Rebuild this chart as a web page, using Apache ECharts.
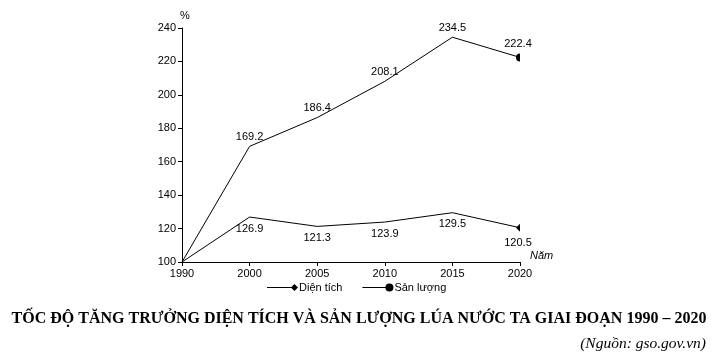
<!DOCTYPE html>
<html><head><meta charset="utf-8">
<script src="https://cdn.jsdelivr.net/npm/echarts@6/dist/echarts.min.js"></script>
<style>html,body{margin:0;padding:0;background:#fff}#c{width:718px;height:362px}</style>
</head><body><div id="c"></div>
<script>
const years = ['1990','2000','2005','2010','2015','2020'];
const dienTich = [100, 126.9, 121.3, 123.9, 129.5, 120.5];
const sanLuong = [100, 169.2, 186.4, 208.1, 234.5, 222.4];
const yTicks = {min: 100, max: 240, interval: 20};

const F = 'Liberation Sans, Arial, sans-serif';
const chart = echarts.init(document.getElementById('c'), null, {renderer: 'canvas'});

function lastOnly(vals, sym) {
  return vals.map((v, i) => i === vals.length - 1
    ? {value: v, symbol: sym, symbolSize: [4, 8], symbolOffset: [-2, 0]}
    : {value: v, symbol: 'circle', symbolSize: 0.01});
}

chart.setOption({
  animation: false,
  grid: {left: 182, right: 198, top: 28, bottom: 100, containLabel: false},
  xAxis: {
    type: 'category', data: years, boundaryGap: false,
    axisLine: {lineStyle: {color: '#000', width: 1}},
    axisTick: {show: true, length: 4, alignWithLabel: true, lineStyle: {color: '#000'}},
    axisLabel: {color: '#000', fontFamily: F, fontSize: 11, margin: 6},
    splitLine: {show: false}
  },
  yAxis: {
    type: 'value', min: yTicks.min, max: yTicks.max, interval: yTicks.interval,
    axisLine: {show: true, lineStyle: {color: '#000', width: 1}},
    axisTick: {show: true, length: 4, lineStyle: {color: '#000'}},
    axisLabel: {color: '#000', fontFamily: F, fontSize: 11, margin: 6},
    splitLine: {show: false}
  },
  legend: {
    bottom: 64, left: 262,
    itemGap: 20,
    itemWidth: 31, itemHeight: 8,
    textStyle: {fontFamily: F, fontSize: 11, color: '#000', padding: [0, 0, 0, -4]},
    data: [
      {name: 'Diện tích', icon: 'path://M0 3.5H27V4.5H0Z M27 0.5L30.5 4L27 7.5L23.5 4Z'},
      {name: 'Sản lượng', icon: 'path://M0 3.5H26V4.5H0Z M23 4A4 4 0 1 1 31 4A4 4 0 1 1 23 4Z'}
    ]
  },
  series: [
    {
      name: 'Diện tích', type: 'line', data: lastOnly(dienTich, 'path://M4 0L0 4L4 8Z'),
      lineStyle: {color: '#000', width: 1}, itemStyle: {color: '#000'},
      showSymbol: true,
      label: {show: true, position: 'bottom', distance: 6, color: '#000', fontFamily: F, fontSize: 11,
        formatter: p => p.dataIndex === 0 ? '' : p.value.toFixed(1)}
    },
    {
      name: 'Sản lượng', type: 'line', data: lastOnly(sanLuong, 'path://M4 0A4 4 0 0 0 4 8Z'),
      lineStyle: {color: '#000', width: 1}, itemStyle: {color: '#000'},
      showSymbol: true,
      label: {show: true, position: 'top', distance: 4, color: '#000', fontFamily: F, fontSize: 11,
        formatter: p => p.dataIndex === 0 ? '' : p.value.toFixed(1)}
    }
  ],
  graphic: [
    {type: 'text', left: 180, top: 10, style: {text: '%', font: '11px ' + F, fill: '#000'}},
    {type: 'text', left: 530, top: 250, style: {text: 'Năm', font: 'italic 11px ' + F, fill: '#000'}},
    {type: 'text', left: 'center', top: 311, style: {text: 'TỐC ĐỘ TĂNG TRƯỞNG DIỆN TÍCH VÀ SẢN LƯỢNG LÚA NƯỚC TA GIAI ĐOẠN 1990 – 2020', font: 'bold 16px "Liberation Serif", "Times New Roman", serif', fill: '#000'}},
    {type: 'text', right: 12, top: 336, style: {text: '(Nguồn: gso.gov.vn)', font: 'italic 15.5px "Liberation Serif", "Times New Roman", serif', fill: '#000'}}
  ]
});
</script></body></html>
